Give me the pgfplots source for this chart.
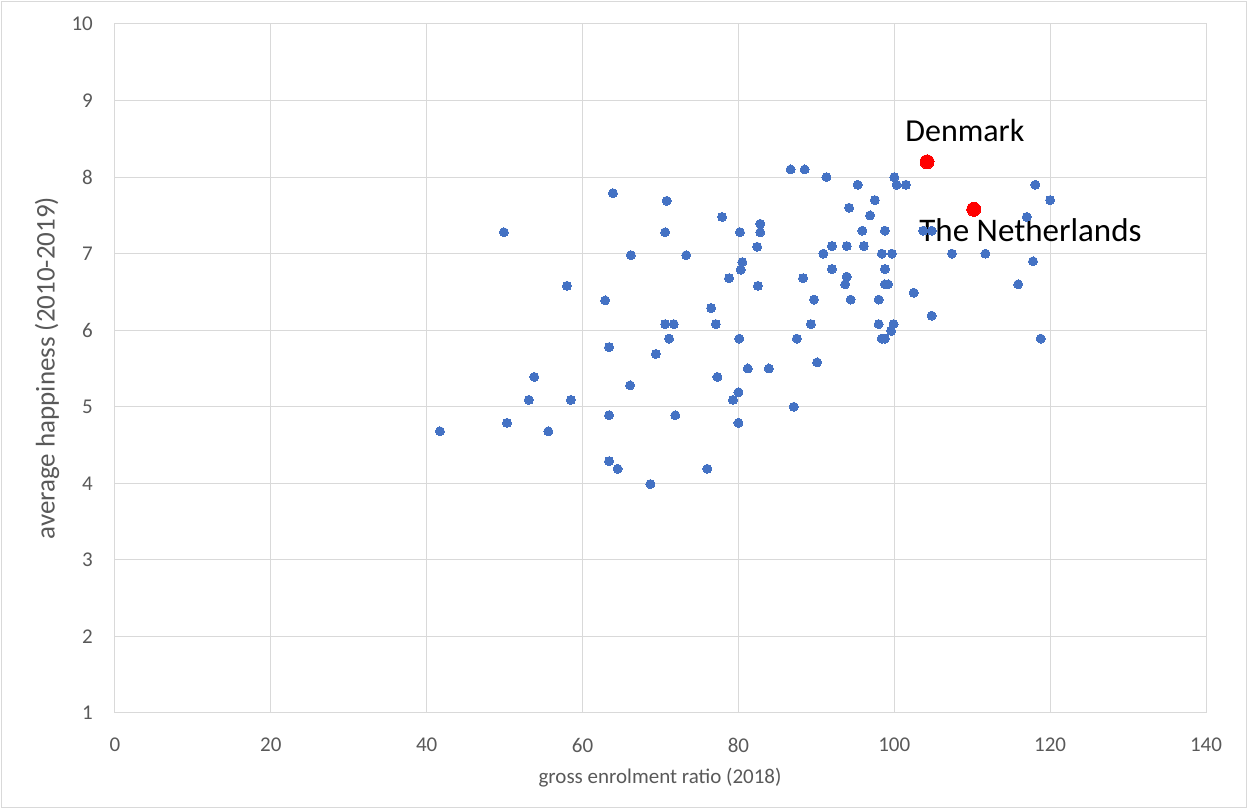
\documentclass[border=0pt]{standalone}
\usepackage{fontspec}
\setmainfont{Carlito}
\usepackage{pgfplots}
\pgfplotsset{compat=1.18}
\definecolor{dotblue}{HTML}{4472C4}
\definecolor{gridgray}{HTML}{D9D9D9}
\definecolor{ticktext}{HTML}{595959}
\definecolor{bordergray}{HTML}{D9D9D9}
\begin{document}
\begin{tikzpicture}
\useasboundingbox (-115pt,-97pt) rectangle (1133pt,713pt);
\draw[bordergray, line width=1pt] (-113pt,-95pt) rectangle (1131pt,711pt);
\begin{axis}[
  at={(0pt,0pt)}, anchor=south west,
  scale only axis, width=1091pt, height=689pt,
  xmin=0, xmax=140, ymin=1, ymax=10,
  xtick={0,20,...,140}, ytick={1,2,...,10},
  grid=major, grid style={gridgray, line width=1pt},
  axis line style={gridgray, line width=1pt},
  major tick length=0pt,
  clip=false,
  /pgf/number format/assume math mode=true,
  tick label style={font=\fontsize{21}{25}\selectfont, text=ticktext, inner sep=0pt},
  yticklabel style={anchor=east, xshift=-22pt},
  xticklabel style={anchor=north, yshift=-25pt},
]
\addplot[only marks, color=dotblue, mark=*, mark size=4.5pt, mark options={solid, draw=dotblue, fill=dotblue, line width=0pt}] table {
x y
41.7 4.68
49.9 7.28
50.3 4.79
53.1 5.09
53.8 5.39
55.6 4.68
58.0 6.58
58.5 5.09
62.9 6.39
63.4 5.78
63.4 4.89
63.4 4.29
63.9 7.79
64.5 4.19
66.1 5.28
66.2 6.98
68.7 3.99
69.4 5.69
70.6 7.28
70.6 6.08
70.8 7.69
71.1 5.89
71.7 6.08
71.9 4.89
73.3 6.98
76.0 4.19
76.5 6.29
77.1 6.08
77.3 5.39
77.9 7.48
78.8 6.68
79.3 5.09
80.0 4.79
80.0 5.19
80.1 5.89
80.2 7.28
80.3 6.79
80.5 6.89
81.2 5.50
82.4 7.09
82.5 6.58
82.8 7.28
82.8 7.39
83.9 5.50
86.7 8.10
87.1 5.00
87.5 5.89
88.3 6.68
88.5 8.10
89.3 6.08
89.7 6.40
90.1 5.58
90.9 7.00
91.3 8.00
92.0 6.80
92.0 7.10
93.7 6.60
93.9 7.10
93.9 6.70
94.2 7.60
94.4 6.40
95.3 7.90
95.9 7.30
96.1 7.10
96.9 7.50
97.5 7.70
98.0 6.40
98.0 6.08
98.4 7.00
98.4 5.89
98.8 5.89
98.8 6.80
98.8 7.30
98.8 6.60
99.2 6.60
99.6 5.99
99.7 7.00
99.9 6.08
100.0 8.00
100.3 7.90
101.5 7.90
102.5 6.49
103.7 7.30
104.8 7.30
104.8 6.19
107.4 7.00
111.7 7.00
115.9 6.60
117.0 7.48
117.8 6.90
118.1 7.90
118.8 5.89
120.0 7.70
};
\addplot[only marks, color=red, mark=*, mark size=7pt, mark options={solid, draw=red, fill=red, line width=0pt}] table {
x y
104.2 8.20
110.2 7.58
};
\node[anchor=base west, inner sep=0pt, font=\fontsize{32}{38}\selectfont] at (axis cs:101.4,8.47) {Denmark};
\node[anchor=base west, inner sep=0pt, font=\fontsize{33}{40}\selectfont] at (axis cs:103.2,7.165) {The Netherlands};
\node[anchor=center, inner sep=0pt, text=ticktext, font=\fontsize{21}{25}\selectfont] at (axis cs:69.94,0.151) {gross enrolment ratio (2018)};
\node[anchor=center, rotate=90, inner sep=0pt, text=ticktext, font=\fontsize{27}{32}\selectfont] at (axis cs:-8.726,5.506) {average happiness (2010-2019)};
\end{axis}
\end{tikzpicture}
\end{document}
